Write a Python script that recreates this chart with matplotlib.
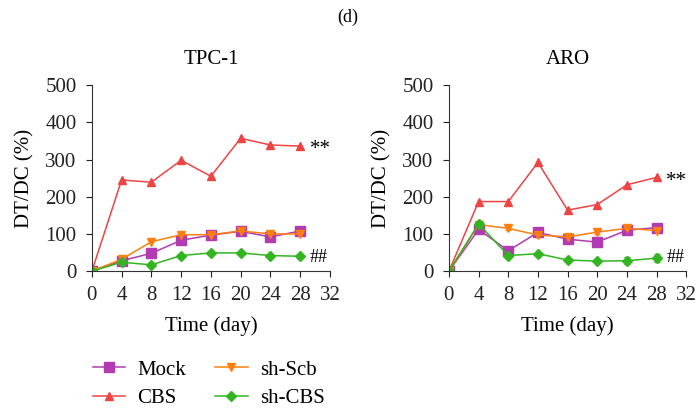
import numpy as np
import matplotlib.pyplot as plt

plt.rcParams['font.family'] = ['Liberation Serif', 'DejaVu Serif']

days = [0, 4, 8, 12, 16, 20, 24, 28]

# TPC-1
tpc_mock = [0, 28, 48, 83, 97, 107, 92, 108]
tpc_cbs = [0, 245, 239, 298, 255, 357, 339, 336]
tpc_scb = [0, 32, 79, 98, 98, 108, 100, 100]
tpc_shcbs = [0, 24, 17, 42, 49, 49, 42, 40]

# ARO
aro_mock = [0, 112, 55, 104, 86, 78, 110, 117]
aro_cbs = [0, 187, 187, 292, 164, 179, 232, 252]
aro_scb = [0, 125, 115, 97, 92, 105, 115, 109]
aro_shcbs = [0, 127, 42, 47, 30, 27, 28, 35]
aro_mock_err = [0, 5, 5, 5, 6, 10, 6, 8]
aro_scb_err = [0, 4, 4, 4, 8, 6, 8, 5]
aro_shcbs_err = [0, 8, 4, 4, 4, 4, 10, 10]

series_names = ['Mock', 'CBS', 'sh-Scb', 'sh-CBS']
colors = ['#B23AB2', '#EE4444', '#FF7F0E', '#33B522']
markers = ['s', '^', 'v', 'D']
msizes = [7, 6, 6, 5]

FS = 15

fig = plt.figure(figsize=(6.96, 4.09), dpi=100)
fig.text(0.5, 0.958, '(d)', ha='center', va='center', fontsize=13)

def panel(ax, title, data, errs, star_y, hash_y):
    lines = []
    for vals, err, name, c, m, ms in zip(data, errs, series_names, colors, markers, msizes):
        h = ax.errorbar(days, vals, yerr=err, color=c, marker=m, markersize=ms,
                        linewidth=1.1, capsize=2.5, elinewidth=1.2, label=name)
        lines.append(h)
    ax.set_xlim(0, 32)
    ax.set_ylim(0, 500)
    ax.set_xticks(range(0, 33, 4))
    ax.set_yticks(range(0, 501, 100))
    ax.spines['top'].set_visible(False)
    ax.spines['right'].set_visible(False)
    ax.spines['left'].set_color('#333333')
    ax.spines['bottom'].set_color('#333333')
    ax.tick_params(labelsize=FS, colors='#222222', length=4)
    ax.tick_params(axis='x', pad=7)
    ax.tick_params(axis='y', pad=7)
    ax.set_title(title, fontsize=FS, pad=15)
    ax.set_xlabel('Time (day)', fontsize=FS, labelpad=8)
    ax.set_ylabel('DT/DC (%)', fontsize=FS, labelpad=8)
    ax.text(29.3, star_y, '**', fontsize=FS, va='center')
    ax.text(29.3, hash_y, '##', fontsize=13, va='center')
    return lines

ax1 = fig.add_axes([0.132, 0.337, 0.342, 0.455])
none = [None] * 4
h = panel(ax1, 'TPC-1', [tpc_mock, tpc_cbs, tpc_scb, tpc_shcbs], none, 326, 38)

ax2 = fig.add_axes([0.645, 0.337, 0.341, 0.455])
panel(ax2, 'ARO', [aro_mock, aro_cbs, aro_scb, aro_shcbs],
      [aro_mock_err, None, aro_scb_err, aro_shcbs_err], 242, 38)

fig.legend(h, series_names, ncol=2, loc='upper left', bbox_to_anchor=(0.133, 0.12),
           frameon=False, fontsize=FS, handlelength=1.55, handletextpad=0.6,
           columnspacing=1.4, labelspacing=0.45, borderaxespad=0, borderpad=0)

fig.savefig('out.png', dpi=100)
